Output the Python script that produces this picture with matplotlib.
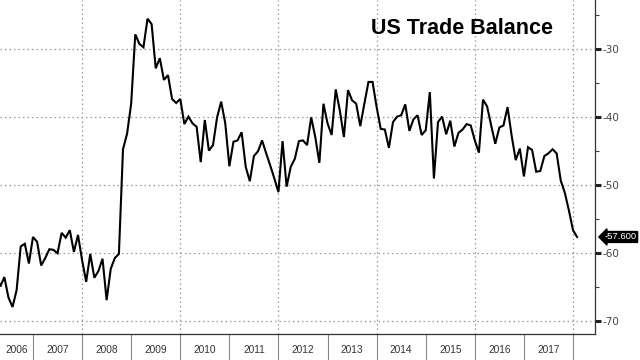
import matplotlib
matplotlib.use("Agg")
import matplotlib.pyplot as plt
import numpy as np
from matplotlib.transforms import blended_transform_factory

# Monthly US trade balance (USD bn), Apr 2006 .. Feb 2018
start_year = 2006.25
values = [
    -62.9, -64.9, -63.5, -66.5, -67.9, -65.4, -59.0, -58.6, -61.5, -57.6,
    -58.3, -61.8, -60.7, -59.4, -59.5, -60.0, -57.0, -57.7, -56.6, -59.8,
    -57.3, -61.0, -64.2, -60.1, -63.6, -62.6, -60.8, -66.9, -62.3, -60.7,
    -60.1, -44.7, -42.4, -38.0, -27.8, -29.2, -29.7, -25.5, -26.3, -32.8,
    -31.3, -34.5, -33.8, -37.3, -37.9, -37.3, -41.0, -39.9, -40.9, -41.4,
    -46.6, -40.4, -44.9, -44.1, -40.0, -37.7, -40.9, -47.2, -43.6, -43.4,
    -42.2, -47.3, -49.4, -45.7, -45.0, -43.4, -45.3, -47.1, -49.0, -51.0,
    -43.5, -50.2, -47.3, -46.1, -43.5, -43.4, -44.1, -40.0, -42.9, -46.7,
    -38.0, -40.9, -42.6, -35.9, -39.0, -42.9, -36.0, -37.5, -38.0, -41.3,
    -38.0, -34.8, -34.8, -38.5, -41.7, -41.8, -44.5, -40.7, -39.9, -39.7,
    -38.1, -42.0, -40.3, -39.7, -42.6, -41.9, -36.3, -49.0, -40.7, -39.9,
    -42.5, -40.5, -44.3, -42.3, -41.8, -41.0, -41.2, -43.4, -45.2, -37.4,
    -38.4, -41.2, -43.9, -41.5, -41.2, -38.5, -42.7, -46.3, -44.6, -48.7,
    -44.4, -44.8, -48.0, -47.9, -45.7, -45.3, -44.7, -45.3, -49.3, -51.1,
    -53.7, -56.6, -57.6,
]
years = list(range(2006, 2018))
y_ticks = [-30, -40, -50, -60, -70]
y_minor = [-25, -35, -45, -55, -65]
grid_years = [2008, 2010, 2012, 2014, 2016, 2018]
title = "US Trade Balance"
last_label = "-57.600"

x = start_year + np.arange(len(values)) / 12.0

fig = plt.figure(figsize=(6.4, 3.6), dpi=100)
ax = fig.add_axes([0, 1 - 334 / 360, 595 / 640, 334 / 360])

x_left = 2006.328
x_right = 2018.448
ax.set_xlim(x_left, x_right)
ax.set_ylim(-71.87, -22.75)

# grid
for yv in y_ticks:
    ax.axhline(yv, color="#999999", lw=0.9, ls=(0, (1.2, 2.4)), zorder=1)
for gy in grid_years:
    ax.axvline(gy, color="#999999", lw=0.9, ls=(0, (1.2, 2.4)), zorder=1)

ax.plot(x, values, color="black", lw=1.5, zorder=3, solid_joinstyle="miter")

# spines
ax.spines["left"].set_visible(False)
ax.spines["top"].set_visible(False)
ax.spines["right"].set_color("#333333")
ax.spines["bottom"].set_color("#333333")
ax.spines["right"].set_linewidth(0.9)
ax.spines["bottom"].set_linewidth(0.9)

# y axis on right
ax.yaxis.tick_right()
ax.set_yticks(y_ticks)
ax.set_yticklabels([str(v) for v in y_ticks])
ax.set_yticks(y_minor, minor=True)
ax.tick_params(axis="y", which="major", direction="out", length=4, width=2.2,
               color="#222222", labelsize=7.5, labelcolor="#444444", pad=1.5)
ax.tick_params(axis="y", which="minor", direction="out", length=3, width=0.8,
               color="#444444")

# x axis: year separators as major ticks, labels as minor ticks
sep = [yr + 1 for yr in years]
ax.set_xticks(sep)
ax.set_xticklabels([""] * len(sep))
mids = [((max(yr, x_left)) + yr + 1) / 2 for yr in years]
ax.set_xticks(mids, minor=True)
ax.set_xticklabels([str(yr) for yr in years], minor=True)
ax.tick_params(axis="x", which="major", direction="out", length=19, width=0.8,
               color="#888888")
ax.tick_params(axis="x", which="minor", length=0, labelsize=7.3, labelcolor="#333333",
               pad=8)
for lbl in ax.get_xticklabels(minor=True):
    lbl.set_family(["Liberation Sans", "DejaVu Sans"])

# title
fig.text(553 / 640, 1 - 28 / 360, title, ha="right", va="center",
         fontsize=15.5, fontweight="bold", color="black",
         family=["Liberation Sans", "DejaVu Sans"])

# last value label
tr = blended_transform_factory(ax.transAxes, ax.transData)
ax.text(1.016, values[-1], last_label, transform=tr, ha="left", va="center",
        fontsize=6.8, color="white", clip_on=False,
        family=["Liberation Sans", "DejaVu Sans"],
        bbox=dict(boxstyle="larrow,pad=0.1", fc="black", ec="black"))

fig.savefig("out.png", dpi=100)
